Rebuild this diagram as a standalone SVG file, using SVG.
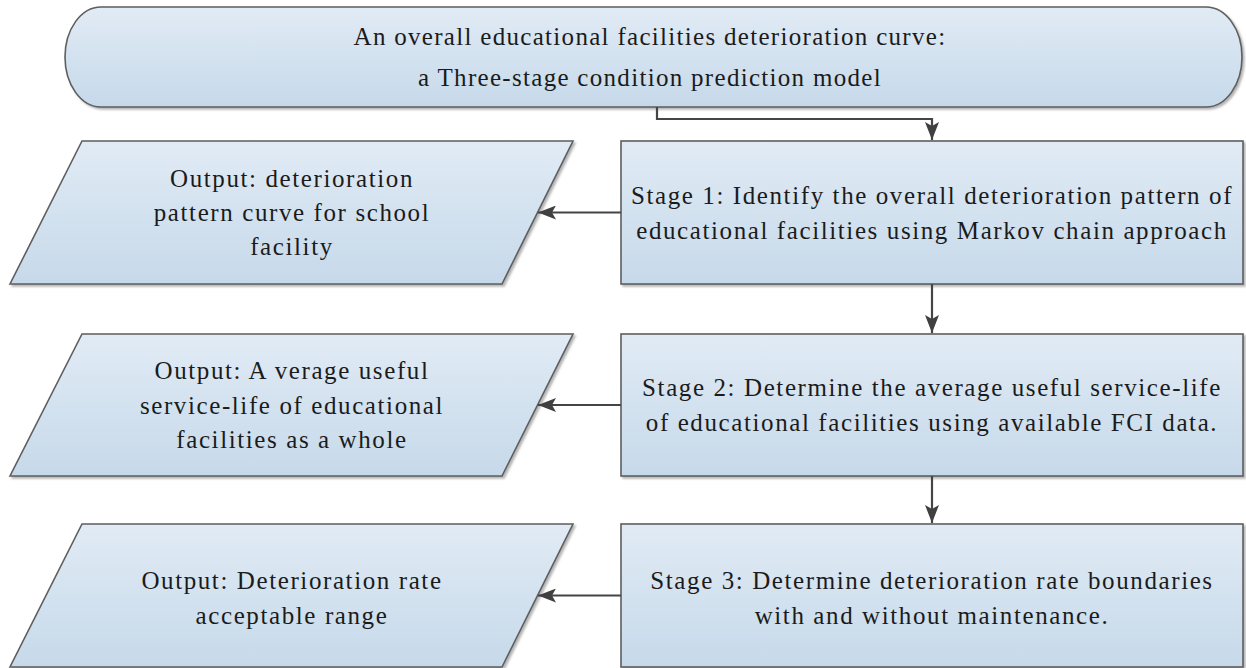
<svg xmlns="http://www.w3.org/2000/svg" width="1246" height="668" viewBox="0 0 1246 668" font-family="Liberation Serif, serif">
  <defs>
    <linearGradient id="g" x1="0" y1="0" x2="0" y2="1">
      <stop offset="0" stop-color="#e1ebf5"/>
      <stop offset="1" stop-color="#c6d9ea"/>
    </linearGradient>
    <filter id="sh" x="-5%" y="-5%" width="110%" height="120%">
      <feDropShadow dx="2" dy="2" stdDeviation="1.2" flood-color="#777" flood-opacity="0.55"/>
    </filter>
    <marker id="ah" viewBox="0 0 18 14" refX="18" refY="7" markerWidth="18" markerHeight="14" markerUnits="userSpaceOnUse" orient="auto">
      <path d="M0,0 L18,7 L0,14 L4,7 Z" fill="#404040"/>
    </marker>
    <style>
      .box { fill: url(#g); stroke: #5e5e5e; stroke-width: 1.6; filter: url(#sh); }
      .t { font-size: 25px; letter-spacing: 1.6px; fill: #1b1b1b; text-anchor: middle; }
      .tt { letter-spacing: 1.3px; }
      .c { fill: none; stroke: #454545; stroke-width: 2.2; }
    </style>
  </defs>
  <rect width="1246" height="668" fill="#ffffff"/>

  <g id="start">
    <rect class="box" x="65" y="7" width="1177" height="100" rx="36" ry="50"/>
    <text class="t tt" x="650" y="45" font-family="Liberation Serif, serif">An overall educational facilities deterioration curve:</text>
    <text class="t tt" x="650" y="86" font-family="Liberation Serif, serif">a Three-stage condition prediction model</text>
  </g>

  <g id="stage1">
    <rect class="box" x="621" y="141" width="622" height="143"/>
    <text class="t" x="932" y="204" font-family="Liberation Serif, serif">Stage 1: Identify the overall deterioration pattern of</text>
    <text class="t" x="932" y="239" font-family="Liberation Serif, serif">educational facilities using Markov chain approach</text>
  </g>

  <g id="output1">
    <polygon class="box" points="82,141 573,141 502,284 10,284"/>
    <text class="t" x="292" y="187" font-family="Liberation Serif, serif">Output: deterioration</text>
    <text class="t" x="292" y="221" font-family="Liberation Serif, serif">pattern curve for school</text>
    <text class="t" x="292" y="255" font-family="Liberation Serif, serif">facility</text>
  </g>

  <g id="stage2">
    <rect class="box" x="621" y="334" width="622" height="142"/>
    <text class="t" x="932" y="396" font-family="Liberation Serif, serif">Stage 2: Determine the average useful service-life</text>
    <text class="t" x="932" y="431" font-family="Liberation Serif, serif">of educational facilities using available FCI data.</text>
  </g>

  <g id="output2">
    <polygon class="box" points="82,334 573,334 502,476 10,476"/>
    <text class="t" x="292" y="379" font-family="Liberation Serif, serif">Output: A verage useful</text>
    <text class="t" x="292" y="414" font-family="Liberation Serif, serif">service-life of educational</text>
    <text class="t" x="292" y="448" font-family="Liberation Serif, serif">facilities as a whole</text>
  </g>

  <g id="stage3">
    <rect class="box" x="621" y="524" width="622" height="143"/>
    <text class="t" x="932" y="589" font-family="Liberation Serif, serif">Stage 3: Determine deterioration rate boundaries</text>
    <text class="t" x="932" y="624" font-family="Liberation Serif, serif">with and without maintenance.</text>
  </g>

  <g id="output3">
    <polygon class="box" points="82,524 573,524 502,667 10,667"/>
    <text class="t" x="292" y="589" font-family="Liberation Serif, serif">Output: Deterioration rate</text>
    <text class="t" x="292" y="624" font-family="Liberation Serif, serif">acceptable range</text>
  </g>

  <g id="connectors">
    <path class="c" d="M657,107 V119 H932 V140" marker-end="url(#ah)"/>
    <path class="c" d="M932,284 V333" marker-end="url(#ah)"/>
    <path class="c" d="M932,476 V523" marker-end="url(#ah)"/>
    <path class="c" d="M621,212.5 H538" marker-end="url(#ah)"/>
    <path class="c" d="M621,405 H538" marker-end="url(#ah)"/>
    <path class="c" d="M621,595.5 H538" marker-end="url(#ah)"/>
  </g>
</svg>
